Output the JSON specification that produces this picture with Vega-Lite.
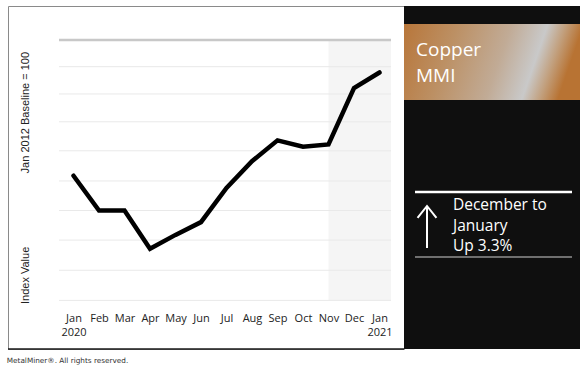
{
  "$schema": "https://vega.github.io/schema/vega-lite/v6.json",
  "background": "white",
  "padding": {"left": 6, "top": 5, "right": 0, "bottom": 4},
  "spacing": 0,
  "bounds": "flush",
  "title": {"text": "MetalMiner®. All rights reserved.", "orient": "bottom", "anchor": "start", "font": "DejaVu Sans", "fontSize": 7.3, "fontWeight": "normal", "color": "#333333", "offset": 7},
  "config": {"view": {"stroke": null}, "axisX": {"labelOverlap": false}},
  "hconcat": [
    {
      "width": 396,
      "height": 343,
      "view": {"fill": "white", "stroke": "#8a8a8a", "strokeWidth": 1},
      "layer": [
        {
          "data": {"values": [{"period": "Nov 2020 - Jan 2021"}]},
          "mark": {"type": "rect", "fill": "#f5f5f5"},
          "encoding": {
            "x": {
              "datum": 10, "type": "quantitative",
              "scale": {"domain": [-2.569, 12.961], "nice": false, "zero": false},
              "axis": {
                "values": [0, 1, 2, 3, 4, 5, 6, 7, 8, 9, 10, 11, 12],
                "tickCount": 16, "tickMinStep": 1,
                "labelExpr": "datum.value < 0 || datum.value > 12 ? '' : datum.value === 0 ? ['Jan', '2020'] : datum.value === 12 ? ['Jan', '2021'] : ['Jan','Feb','Mar','Apr','May','Jun','Jul','Aug','Sep','Oct','Nov','Dec'][datum.value]",
                "labelFont": "Open Sans", "labelFontSize": 11, "labelColor": "#222222", "labelLineHeight": 14,
                "labelPadding": 0, "ticks": false, "tickSize": 0, "domain": false, "grid": false,
                "offset": -37, "title": null, "labelFlush": false, "labelOverlap": false, "labelBound": false
              }
            },
            "x2": {"datum": 12.451},
            "y": {"datum": 105, "type": "quantitative", "scale": {"domain": [51.724, 110.862], "nice": false, "zero": false}},
            "y2": {"datum": 60.1}
          }
        },
        {
          "data": {"values": [{"g": 105}, {"g": 100.4}, {"g": 95.7}, {"g": 90.9}, {"g": 85.9}, {"g": 80.7}, {"g": 75.6}, {"g": 70.5}, {"g": 65.3}, {"g": 60.1}]},
          "mark": {"type": "rule"},
          "encoding": {
            "x": {"datum": -0.569, "type": "quantitative", "scale": {"domain": [-2.569, 12.961], "nice": false, "zero": false}},
            "x2": {"datum": 12.451},
            "y": {"field": "g", "type": "quantitative", "scale": {"domain": [51.724, 110.862], "nice": false, "zero": false}},
            "color": {"condition": {"test": "datum.g === 105", "value": "#c8c8c8"}, "value": "#e9e9e9"},
            "strokeWidth": {"condition": {"test": "datum.g === 105", "value": 2.5}, "value": 1}
          }
        },
        {
          "data": {"values": [{"edge": "bottom"}]},
          "mark": {"type": "rule", "color": "#1a1a1a", "strokeWidth": 1.5},
          "encoding": {
            "x": {"datum": -2.569, "type": "quantitative", "scale": {"domain": [-2.569, 12.961], "nice": false, "zero": false}},
            "x2": {"datum": 12.961},
            "y": {"datum": 51.724, "type": "quantitative", "scale": {"domain": [51.724, 110.862], "nice": false, "zero": false}}
          }
        },
        {
          "data": {"values": [
            {"month": "Jan 2020", "i": 0, "value": 81.6},
            {"month": "Feb 2020", "i": 1, "value": 75.6},
            {"month": "Mar 2020", "i": 2, "value": 75.6},
            {"month": "Apr 2020", "i": 3, "value": 69.0},
            {"month": "May 2020", "i": 4, "value": 71.4},
            {"month": "Jun 2020", "i": 5, "value": 73.6},
            {"month": "Jul 2020", "i": 6, "value": 79.5},
            {"month": "Aug 2020", "i": 7, "value": 84.1},
            {"month": "Sep 2020", "i": 8, "value": 87.7},
            {"month": "Oct 2020", "i": 9, "value": 86.6},
            {"month": "Nov 2020", "i": 10, "value": 87.0},
            {"month": "Dec 2020", "i": 11, "value": 96.7},
            {"month": "Jan 2021", "i": 12, "value": 99.4}
          ]},
          "mark": {"type": "line", "color": "#000000", "strokeWidth": 4.5, "strokeCap": "round"},
          "encoding": {
            "x": {
              "field": "i", "type": "quantitative",
              "scale": {"domain": [-2.569, 12.961], "nice": false, "zero": false},
              "axis": {
                "values": [0, 1, 2, 3, 4, 5, 6, 7, 8, 9, 10, 11, 12],
                "tickCount": 16, "tickMinStep": 1,
                "labelExpr": "datum.value < 0 || datum.value > 12 ? '' : datum.value === 0 ? ['Jan', '2020'] : datum.value === 12 ? ['Jan', '2021'] : ['Jan','Feb','Mar','Apr','May','Jun','Jul','Aug','Sep','Oct','Nov','Dec'][datum.value]",
                "labelFont": "Open Sans", "labelFontSize": 11, "labelColor": "#222222", "labelLineHeight": 14,
                "labelPadding": 0, "ticks": false, "tickSize": 0, "domain": false, "grid": false,
                "offset": -37, "title": null, "labelFlush": false, "labelOverlap": false, "labelBound": false
              }
            },
            "y": {
              "field": "value", "type": "quantitative",
              "scale": {"domain": [51.724, 110.862], "nice": false, "zero": false},
              "axis": {
                "labels": false, "ticks": false, "tickSize": 0, "domain": false, "grid": false,
                "offset": -22, "titlePadding": 0,
                "title": "Index Value\u00a0\u00a0\u00a0\u00a0\u00a0\u00a0\u00a0\u00a0\u00a0\u00a0\u00a0\u00a0\u00a0\u00a0\u00a0\u00a0\u00a0\u00a0\u00a0\u00a0\u00a0\u00a0\u00a0\u00a0Jan 2012 Baseline = 100",
                "titleFont": "Liberation Sans", "titleFontSize": 11, "titleFontWeight": "normal", "titleColor": "#222222"
              }
            }
          }
        }
      ]
    },
    {
      "width": 176,
      "height": 343,
      "view": {"fill": "#0f0f0f", "stroke": null},
      "data": {"values": [{"label": "Copper MMI", "change": "December to January Up 3.3%"}]},
      "layer": [
        {
          "mark": {"type": "rect", "fill": {"gradient": "linear", "x1": 0, "y1": 0, "x2": 1, "y2": 0.15, "stops": [
            {"offset": 0, "color": "#b8763a"},
            {"offset": 0.3, "color": "#bc9064"},
            {"offset": 0.6, "color": "#c1ab96"},
            {"offset": 0.8, "color": "#c9c9c9"},
            {"offset": 0.9, "color": "#c2a07e"},
            {"offset": 1, "color": "#b87333"}
          ]}},
          "encoding": {
            "x": {"datum": 0, "type": "quantitative", "scale": {"domain": [0, 176], "nice": false, "zero": false}, "axis": null},
            "x2": {"datum": 176},
            "y": {"datum": 18, "type": "quantitative", "scale": {"domain": [0, 343], "reverse": true, "nice": false, "zero": false}, "axis": null},
            "y2": {"datum": 94}
          }
        },
        {
          "mark": {"type": "text", "text": ["Copper", "MMI"], "font": "Open Sans", "fontSize": 19, "fill": "white", "align": "left", "baseline": "alphabetic", "lineHeight": 26},
          "encoding": {
            "x": {"datum": 12, "type": "quantitative", "scale": {"domain": [0, 176], "nice": false, "zero": false}, "axis": null},
            "y": {"datum": 50, "type": "quantitative", "scale": {"domain": [0, 343], "reverse": true, "nice": false, "zero": false}, "axis": null}
          }
        },
        {
          "mark": {"type": "rule", "color": "white", "strokeWidth": 2.5},
          "encoding": {
            "x": {"datum": 11, "type": "quantitative", "scale": {"domain": [0, 176], "nice": false, "zero": false}, "axis": null},
            "x2": {"datum": 168},
            "y": {"datum": 186, "type": "quantitative", "scale": {"domain": [0, 343], "reverse": true, "nice": false, "zero": false}, "axis": null}
          }
        },
        {
          "mark": {"type": "point", "shape": "M0,1 L0,-1 M-0.45,-0.43 L0,-1 L0.45,-0.43", "filled": false, "stroke": "white", "strokeWidth": 2, "size": 1764, "opacity": 1},
          "encoding": {
            "x": {"datum": 23, "type": "quantitative", "scale": {"domain": [0, 176], "nice": false, "zero": false}, "axis": null},
            "y": {"datum": 221, "type": "quantitative", "scale": {"domain": [0, 343], "reverse": true, "nice": false, "zero": false}, "axis": null}
          }
        },
        {
          "mark": {"type": "text", "text": ["December to", "January", "Up 3.3%"], "font": "Open Sans", "fontSize": 15.5, "fill": "white", "align": "left", "baseline": "alphabetic", "lineHeight": 20.5},
          "encoding": {
            "x": {"datum": 49, "type": "quantitative", "scale": {"domain": [0, 176], "nice": false, "zero": false}, "axis": null},
            "y": {"datum": 204, "type": "quantitative", "scale": {"domain": [0, 343], "reverse": true, "nice": false, "zero": false}, "axis": null}
          }
        },
        {
          "mark": {"type": "rule", "color": "#d0d0d0", "strokeWidth": 1.2},
          "encoding": {
            "x": {"datum": 11, "type": "quantitative", "scale": {"domain": [0, 176], "nice": false, "zero": false}, "axis": null},
            "x2": {"datum": 168},
            "y": {"datum": 251, "type": "quantitative", "scale": {"domain": [0, 343], "reverse": true, "nice": false, "zero": false}, "axis": null}
          }
        }
      ]
    }
  ]
}
